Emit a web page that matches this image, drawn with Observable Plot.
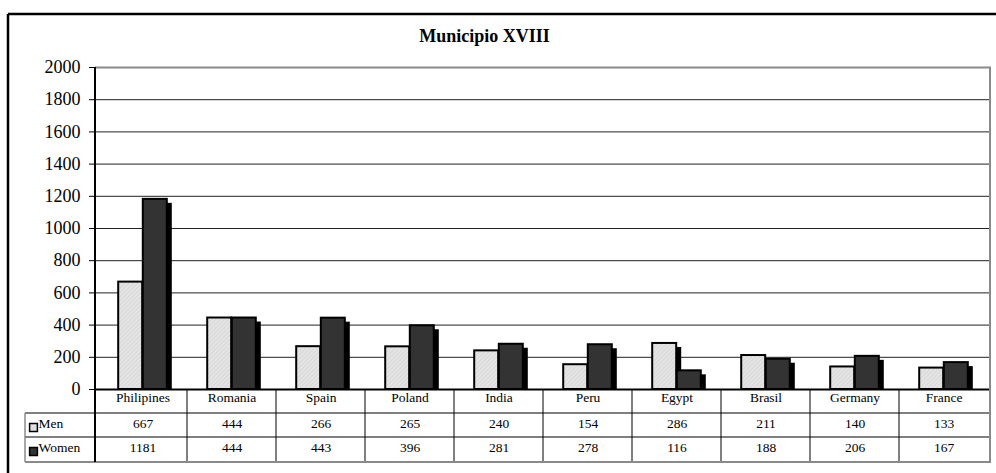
<!DOCTYPE html>
<html><head><meta charset="utf-8">
<script src="https://cdn.jsdelivr.net/npm/d3@7"></script>
<script src="https://cdn.jsdelivr.net/npm/@observablehq/plot@0.6"></script>
<style>
html,body{margin:0;padding:0;background:#fff}
#chart svg{display:block}
</style>
</head><body><div id="chart"></div>
<script>
// ---- data ----
const chartTitle = "Municipio XVIII";
const countries = ["Philipines","Romania","Spain","Poland","India","Peru","Egypt","Brasil","Germany","France"];
const men   = [667, 444, 266, 265, 240, 154, 286, 211, 140, 133];
const women = [1181, 444, 443, 396, 281, 278, 116, 188, 206, 167];
const seriesNames = ["Men", "Women"];
const yTicks = [0, 200, 400, 600, 800, 1000, 1200, 1400, 1600, 1800, 2000];

// ---- layout ----
const W = 996, H = 473;
const mL = 95, mR = 5, mT = 67, mB = 84;
const bw = (W - mL - mR) / countries.length;
const barW = 24.6;
const outer = (bw - 2 * barW) / 2;
const serif = "'Liberation Serif', 'Times New Roman', Times, serif";
const menFill = "url(#menHatch)";
const womenFill = "#333333";
const rowDy = [38, 62];
const seriesFill = [menFill, womenFill];

const rows = countries.map((c, i) => ({country: c, men: men[i], women: women[i]}));

const legendMarks = seriesNames.flatMap((s, i) => [
  Plot.dot([s], {frameAnchor: "bottom-left", dx: 33 - mL, dy: rowDy[i], symbol: "square", r: 4.4, fill: seriesFill[i], stroke: "#000", strokeWidth: 1.5}),
  Plot.text([s], {frameAnchor: "bottom-left", text: d => d, dx: 38 - mL, dy: rowDy[i], textAnchor: "start", fontSize: 13.5, fill: "#000"})
]);

const plot = Plot.plot({
  width: W, height: H,
  marginLeft: mL, marginRight: mR, marginTop: mT, marginBottom: mB,
  style: {fontFamily: serif, fontSize: "18px", color: "#000", background: "#fff"},
  x: {type: "band", domain: countries, padding: 0, axis: null},
  y: {domain: [0, 2000], ticks: yTicks, tickSize: 6, tickPadding: 9, tickFormat: d => String(d), label: null},
  marks: [
    Plot.ruleY(yTicks.filter(t => t > 0 && t < 2000), {stroke: "#222", strokeWidth: 1}),
    Plot.ruleY([2000], {stroke: "#8a8a8a", strokeWidth: 2}),
    // men shadow + bar
    Plot.barY(rows, {x: "country", y: "men", insetLeft: outer, insetRight: bw - outer - barW, insetBottom: 4, dx: 5, dy: 4, fill: "#000"}),
    Plot.barY(rows, {x: "country", y: "men", insetLeft: outer, insetRight: bw - outer - barW, fill: menFill, stroke: "#000", strokeWidth: 2}),
    // women shadow + bar
    Plot.barY(rows, {x: "country", y: "women", insetLeft: outer + barW, insetRight: outer, insetBottom: 4, dx: 5, dy: 4, fill: "#000"}),
    Plot.barY(rows, {x: "country", y: "women", insetLeft: outer + barW, insetRight: outer, fill: womenFill, stroke: "#000", strokeWidth: 2}),
    Plot.ruleY([0], {stroke: "#000", strokeWidth: 2}),
    // title
    Plot.text([chartTitle], {frameAnchor: "top", dx: 484 - (mL + (W - mL - mR) / 2), dy: -38, fontWeight: "bold", fontSize: 18, fill: "#000"}),
    // data table
    Plot.text(rows, {x: "country", text: "country", frameAnchor: "bottom", dy: 12, fontSize: 13.5, fill: "#000"}),
    Plot.text(rows, {x: "country", text: d => String(d.men), frameAnchor: "bottom", dy: rowDy[0], fontSize: 13.5, fill: "#000"}),
    Plot.text(rows, {x: "country", text: d => String(d.women), frameAnchor: "bottom", dy: rowDy[1], fontSize: 13.5, fill: "#000"}),
    ...legendMarks
  ]
});

document.getElementById("chart").appendChild(plot);

const svg = d3.select(plot);
// hatch pattern for Men bars
const defs = svg.insert("defs", ":first-child");
const pat = defs.append("pattern").attr("id", "menHatch").attr("patternUnits", "userSpaceOnUse")
  .attr("width", 3).attr("height", 3).attr("patternTransform", "rotate(45)");
pat.append("rect").attr("width", 3).attr("height", 3).attr("fill", "#e4e4e4");
pat.append("line").attr("x1", 0).attr("y1", 0).attr("x2", 0).attr("y2", 3).attr("stroke", "#cdcdcd").attr("stroke-width", 1);

const xs = plot.scale("x");
const ys = plot.scale("y");
const y0 = ys.apply(0), yTop = ys.apply(2000);
const xL = mL, xR = W - mR;
const rowB1 = y0 + 24, rowB2 = y0 + 48, rowB3 = y0 + 73;
const colL = 25;
const g = svg.append("g").attr("fill", "none");
function line(x1, y1, x2, y2, stroke, w) {
  g.append("line").attr("x1", x1).attr("y1", y1).attr("x2", x2).attr("y2", y2).attr("stroke", stroke).attr("stroke-width", w);
}
// table horizontal lines
line(colL, rowB1, xR, rowB1, "#000", 1);
line(colL, rowB2, xR, rowB2, "#000", 1);
// table vertical lines
countries.slice(1).forEach(c => { const xx = xs.apply(c); line(xx, y0, xx, rowB3, "#000", 1); });
// label column left edge
line(colL, rowB1, colL, rowB3, "#8a8a8a", 1.5);
// bottom of table
line(colL, rowB3, xR, rowB3, "#8a8a8a", 2);
// right border of plot + table
line(xR - 1, yTop, xR - 1, rowB3, "#8a8a8a", 2);
// left axis line (continues through table)
line(xL, yTop, xL, rowB3, "#000", 2);
// outer chart border (top and left visible)
line(8, 14, W, 14, "#000", 2.5);
line(8, 14, 8, H, "#000", 2.5);
</script>
</body></html>
